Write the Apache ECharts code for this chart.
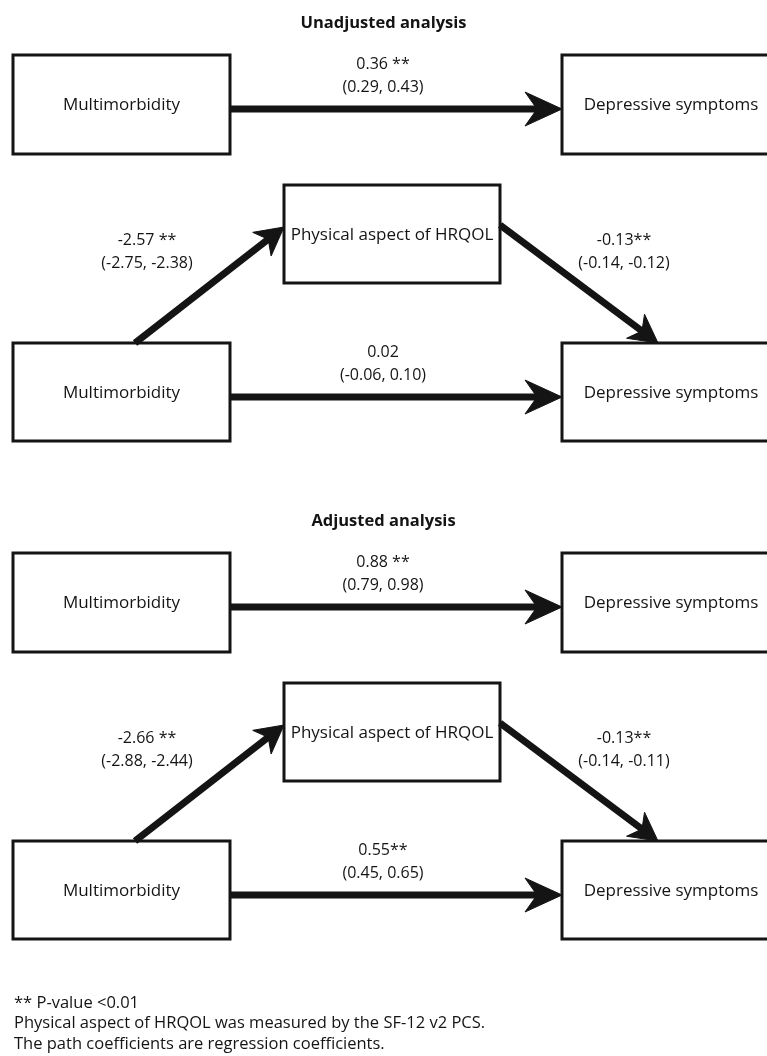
<!DOCTYPE html>
<html>
<head>
<meta charset="utf-8">
<script src="https://cdn.jsdelivr.net/npm/echarts@6/dist/echarts.min.js"></script>
<style>
  html, body { margin: 0; padding: 0; background: #fff; }
  #chart { width: 767px; height: 1056px; }
</style>
</head>
<body>
<div id="chart"></div>
<script>
// ---------------- data ----------------
const panelTitles = ['Unadjusted analysis', 'Adjusted analysis'];
const nodeLabels = ['Multimorbidity', 'Physical aspect of HRQOL', 'Depressive symptoms'];
const pathNames = ['total', 'a', 'b', 'direct'];

const coefUnadjusted  = [0.36, -2.57, -0.13, 0.02];
const lowerUnadjusted = [0.29, -2.75, -0.14, -0.06];
const upperUnadjusted = [0.43, -2.38, -0.12, 0.10];
const sigUnadjusted   = [' **', ' **', '**', ''];

const coefAdjusted  = [0.88, -2.66, -0.13, 0.55];
const lowerAdjusted = [0.79, -2.88, -0.14, 0.45];
const upperAdjusted = [0.98, -2.44, -0.11, 0.65];
const sigAdjusted   = [' **', ' **', '**', '**'];

const footnotes = [
  '** P-value <0.01',
  'Physical aspect of HRQOL was measured by the SF-12 v2 PCS.',
  'The path coefficients are regression coefficients.'
];

// ---------------- layout (positions / styles) ----------------
const FONT = '"Open Sans", "Noto Sans", sans-serif';
const INK = '#141414';
const panelOffset = [0, 498];
// boxes: [nodeIndex, x0, y0, x1, y1]
const boxLayout = [
  [0, 13, 55, 230, 154],
  [2, 562, 55, 780, 154],
  [1, 284, 185, 500, 283],
  [0, 13, 343, 230, 441],
  [2, 562, 343, 780, 441]
];
// arrows per path: from, to, head length, head half-width, notch
const arrowLayout = [
  { from: [230, 109], to: [562, 109], len: 37, half: 17, notch: 12 },
  { from: [135, 343], to: [284, 227], len: 28, half: 15, notch: 8 },
  { from: [500, 225], to: [658, 343], len: 28, half: 15, notch: 8 },
  { from: [230, 397], to: [562, 397], len: 37, half: 17, notch: 12 }
];
// label centre (first line) per path
const labelLayout = [[383, 64], [147, 240], [624, 240], [383, 352]];

const coefSets = [
  { coef: coefUnadjusted, lo: lowerUnadjusted, hi: upperUnadjusted, sig: sigUnadjusted },
  { coef: coefAdjusted, lo: lowerAdjusted, hi: upperAdjusted, sig: sigAdjusted }
];

function fmt(v) { return v.toFixed(2); }

// data items built from the arrays
const boxData = [];
panelTitles.forEach((t, p) => boxLayout.forEach((b, i) => boxData.push([p, i])));
const pathData = [];
panelTitles.forEach((t, p) => pathNames.forEach((n, i) => pathData.push([p, i])));

const chart = echarts.init(document.getElementById('chart'), null, { renderer: 'canvas' });

const option = {
  backgroundColor: '#fff',
  animation: false,
  grid: { left: 0, right: 0, top: 0, bottom: 0 },
  xAxis: { type: 'value', min: 0, max: 767, show: false },
  yAxis: { type: 'value', min: 0, max: 1056, inverse: true, show: false },
  title: panelTitles.map((t, p) => ({
    text: t,
    left: 'center',
    top: 10 + panelOffset[p],
    textStyle: { fontFamily: FONT, fontSize: 16.5, fontWeight: 'bold', color: INK }
  })),
  graphic: [{
    type: 'text',
    left: 14,
    top: 993,
    style: {
      text: footnotes.join('\n'),
      font: '16.5px ' + FONT,
      lineHeight: 20.5,
      fill: INK
    }
  }],
  series: [
    {
      type: 'custom',
      name: 'boxes',
      coordinateSystem: 'cartesian2d',
      data: boxData,
      silent: true,
      renderItem: function (params, api) {
        const p = api.value(0), i = api.value(1);
        const b = boxLayout[i];
        const dy = panelOffset[p];
        const a = api.coord([b[1], b[2] + dy]);
        const c = api.coord([b[3], b[4] + dy]);
        const label = nodeLabels[b[0]];
        return {
          type: 'group',
          children: [
            {
              type: 'rect',
              shape: { x: a[0], y: a[1], width: c[0] - a[0], height: c[1] - a[1] },
              style: { fill: '#fff', stroke: INK, lineWidth: 3 }
            },
            {
              type: 'text',
              style: {
                text: label,
                x: b[0] === 2 ? (a[0] + 109) : (a[0] + c[0]) / 2,
                y: (a[1] + c[1]) / 2 + 1,
                align: 'center',
                verticalAlign: 'middle',
                font: '17px ' + FONT,
                fill: INK
              }
            }
          ]
        };
      }
    },
    {
      type: 'custom',
      name: 'paths',
      coordinateSystem: 'cartesian2d',
      data: pathData,
      silent: true,
      renderItem: function (params, api) {
        const p = api.value(0), i = api.value(1);
        const L = arrowLayout[i];
        const dy = panelOffset[p];
        const s = api.coord([L.from[0], L.from[1] + dy]);
        const t = api.coord([L.to[0], L.to[1] + dy]);
        const dx = t[0] - s[0], dyy = t[1] - s[1];
        const len = Math.sqrt(dx * dx + dyy * dyy);
        const ux = dx / len, uy = dyy / len;
        const nx = -uy, ny = ux;
        const back = [t[0] - ux * L.len, t[1] - uy * L.len];
        const notch = [t[0] - ux * (L.len - L.notch), t[1] - uy * (L.len - L.notch)];
        const w1 = [back[0] + nx * L.half, back[1] + ny * L.half];
        const w2 = [back[0] - nx * L.half, back[1] - ny * L.half];
        return {
          type: 'group',
          children: [
            {
              type: 'line',
              shape: { x1: s[0], y1: s[1], x2: notch[0] + ux * 2, y2: notch[1] + uy * 2 },
              style: { stroke: INK, lineWidth: 7 }
            },
            {
              type: 'polygon',
              shape: { points: [t, w1, notch, w2] },
              style: { fill: INK, stroke: INK, lineWidth: 1 }
            }
          ]
        };
      }
    },
    {
      type: 'custom',
      name: 'coefficients',
      coordinateSystem: 'cartesian2d',
      data: pathData,
      silent: true,
      renderItem: function (params, api) {
        const p = api.value(0), i = api.value(1);
        const set = coefSets[p];
        const pos = api.coord([labelLayout[i][0], labelLayout[i][1] + panelOffset[p]]);
        return {
          type: 'text',
          style: {
            text: fmt(set.coef[i]) + set.sig[i] + '\n(' + fmt(set.lo[i]) + ', ' + fmt(set.hi[i]) + ')',
            x: pos[0],
            y: pos[1] - 11.5,
            align: 'center',
            verticalAlign: 'top',
            font: '16px ' + FONT,
            lineHeight: 23,
            fill: INK
          }
        };
      }
    }
  ]
};
chart.setOption(option);
</script>
</body>
</html>
